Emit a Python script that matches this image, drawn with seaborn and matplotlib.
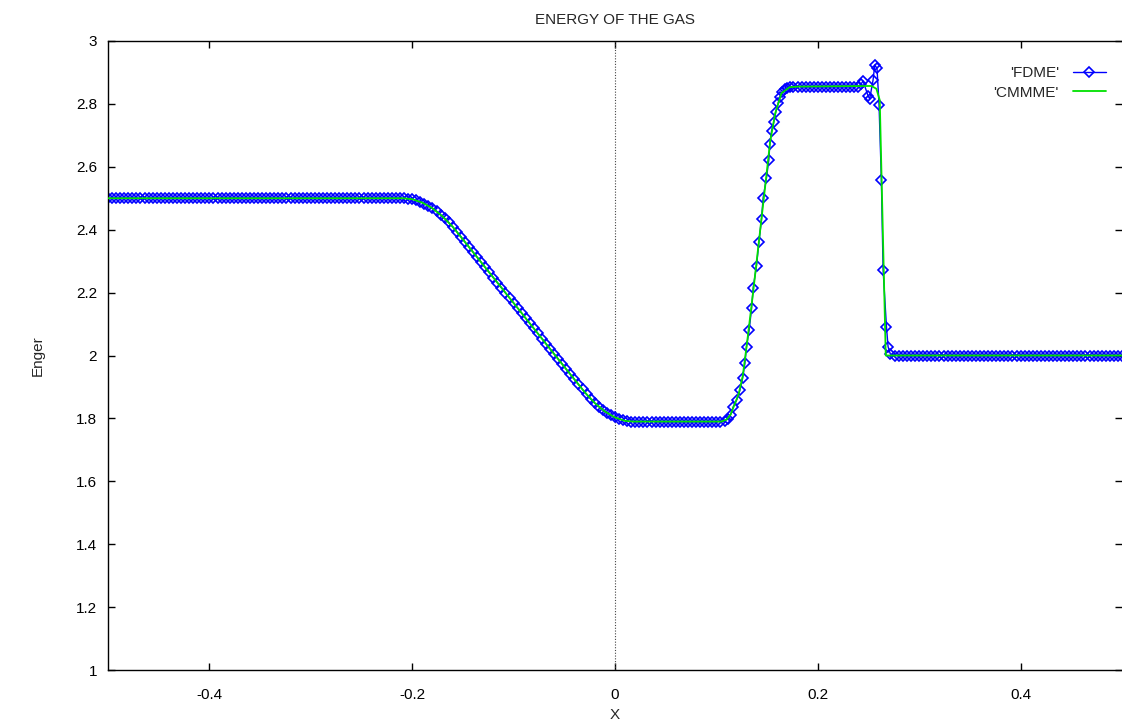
import numpy as np
import pandas as pd
import matplotlib
matplotlib.use("Agg")
import matplotlib.pyplot as plt
import seaborn as sns
from matplotlib.ticker import FuncFormatter

# ---- FDME (moving mesh points), read segment by segment ----
left_x = [-0.500, -0.496, -0.492, -0.488, -0.484, -0.480, -0.476, -0.472, -0.468, -0.464,
          -0.460, -0.456, -0.452, -0.448, -0.444, -0.440, -0.436, -0.432, -0.428, -0.424,
          -0.420, -0.416, -0.412, -0.408, -0.404, -0.400, -0.396, -0.392, -0.388, -0.384,
          -0.380, -0.376, -0.372, -0.368, -0.364, -0.360, -0.356, -0.352, -0.348, -0.344,
          -0.340, -0.336, -0.332, -0.328, -0.324, -0.320, -0.316, -0.312, -0.308, -0.304,
          -0.300, -0.296, -0.292, -0.288, -0.284, -0.280, -0.276, -0.272, -0.268, -0.264,
          -0.260, -0.256, -0.252, -0.248, -0.244, -0.240, -0.236, -0.232, -0.228, -0.224,
          -0.220, -0.216, -0.212]
left_y = [2.5, 2.5, 2.5, 2.5, 2.5, 2.5, 2.5, 2.5, 2.5, 2.5,
          2.5, 2.5, 2.5, 2.5, 2.5, 2.5, 2.5, 2.5, 2.5, 2.5,
          2.5, 2.5, 2.5, 2.5, 2.5, 2.5, 2.5, 2.5, 2.5, 2.5,
          2.5, 2.5, 2.5, 2.5, 2.5, 2.5, 2.5, 2.5, 2.5, 2.5,
          2.5, 2.5, 2.5, 2.5, 2.5, 2.5, 2.5, 2.5, 2.5, 2.5,
          2.5, 2.5, 2.5, 2.5, 2.5, 2.5, 2.5, 2.5, 2.5, 2.5,
          2.5, 2.5, 2.5, 2.5, 2.5, 2.5, 2.5, 2.5, 2.5, 2.5,
          2.5, 2.5, 2.5]

rare_x = [-0.208, -0.204, -0.200, -0.196, -0.192, -0.188, -0.184, -0.180, -0.176, -0.172,
          -0.168, -0.164, -0.160, -0.156, -0.152, -0.148, -0.144, -0.140, -0.136, -0.132,
          -0.128, -0.124, -0.120, -0.116, -0.112, -0.108, -0.104, -0.100, -0.096, -0.092,
          -0.088, -0.084, -0.080, -0.076, -0.072, -0.068, -0.064, -0.060, -0.056, -0.052,
          -0.048, -0.044, -0.040, -0.036, -0.032, -0.028, -0.024, -0.020, -0.016, -0.012,
          -0.008, -0.004, 0.000, 0.004, 0.008, 0.012, 0.016]
rare_y = [2.500, 2.499, 2.497, 2.493, 2.489, 2.483, 2.476, 2.468, 2.459, 2.448,
          2.436, 2.423, 2.409, 2.394, 2.378, 2.361, 2.345, 2.329, 2.313, 2.297,
          2.280, 2.264, 2.248, 2.232, 2.216, 2.199, 2.183, 2.167, 2.151, 2.135,
          2.118, 2.102, 2.086, 2.070, 2.054, 2.037, 2.021, 2.005, 1.989, 1.973,
          1.956, 1.940, 1.924, 1.908, 1.892, 1.876, 1.862, 1.849, 1.837, 1.827,
          1.817, 1.810, 1.803, 1.798, 1.794, 1.791, 1.790]

mid_x = [0.020, 0.024, 0.028, 0.032, 0.036, 0.040, 0.044, 0.048, 0.052, 0.056,
         0.060, 0.064, 0.068, 0.072, 0.076, 0.080, 0.084, 0.088, 0.092, 0.096,
         0.100, 0.104]
mid_y = [1.79, 1.79, 1.79, 1.79, 1.79, 1.79, 1.79, 1.79, 1.79, 1.79,
         1.79, 1.79, 1.79, 1.79, 1.79, 1.79, 1.79, 1.79, 1.79, 1.79,
         1.79, 1.79]

rise_x = [0.108, 0.111, 0.114, 0.1166, 0.1199, 0.1232, 0.1258, 0.1281, 0.1297, 0.1323,
          0.1347, 0.1363, 0.1396, 0.1419, 0.1445, 0.1461, 0.1494, 0.1517, 0.1527, 0.1544,
          0.1567, 0.1586, 0.1609, 0.1626, 0.1650, 0.1675, 0.1700, 0.1724]
rise_y = [1.792, 1.798, 1.812, 1.837, 1.858, 1.890, 1.927, 1.975, 2.028, 2.081,
          2.150, 2.216, 2.286, 2.360, 2.434, 2.502, 2.565, 2.622, 2.672, 2.714,
          2.743, 2.775, 2.802, 2.823, 2.838, 2.846, 2.852, 2.855]

top_x = [0.176, 0.180, 0.184, 0.188, 0.192, 0.196, 0.200, 0.204, 0.208, 0.212,
         0.216, 0.220, 0.224, 0.228, 0.232, 0.236, 0.240]
top_y = [2.855, 2.855, 2.855, 2.855, 2.855, 2.855, 2.855, 2.855, 2.855, 2.855,
         2.855, 2.855, 2.855, 2.855, 2.855, 2.855, 2.855]

shock_x = [0.2425, 0.2446, 0.2495, 0.2512, 0.2545, 0.2562, 0.2584, 0.2604, 0.2627, 0.2644,
           0.2677, 0.2693, 0.2715]
shock_y = [2.862, 2.873, 2.826, 2.816, 2.876, 2.924, 2.913, 2.797, 2.558, 2.272,
           2.092, 2.028, 2.005]

right_x = [0.276, 0.280, 0.284, 0.288, 0.292, 0.296, 0.300, 0.304, 0.308, 0.312,
           0.316, 0.320, 0.324, 0.328, 0.332, 0.336, 0.340, 0.344, 0.348, 0.352,
           0.356, 0.360, 0.364, 0.368, 0.372, 0.376, 0.380, 0.384, 0.388, 0.392,
           0.396, 0.400, 0.404, 0.408, 0.412, 0.416, 0.420, 0.424, 0.428, 0.432,
           0.436, 0.440, 0.444, 0.448, 0.452, 0.456, 0.460, 0.464, 0.468, 0.472,
           0.476, 0.480, 0.484, 0.488, 0.492, 0.496, 0.500]
right_y = [2.0, 2.0, 2.0, 2.0, 2.0, 2.0, 2.0, 2.0, 2.0, 2.0,
           2.0, 2.0, 2.0, 2.0, 2.0, 2.0, 2.0, 2.0, 2.0, 2.0,
           2.0, 2.0, 2.0, 2.0, 2.0, 2.0, 2.0, 2.0, 2.0, 2.0,
           2.0, 2.0, 2.0, 2.0, 2.0, 2.0, 2.0, 2.0, 2.0, 2.0,
           2.0, 2.0, 2.0, 2.0, 2.0, 2.0, 2.0, 2.0, 2.0, 2.0,
           2.0, 2.0, 2.0, 2.0, 2.0, 2.0, 2.0]

# ---- CMMME (reference line, no markers) ----
cmmme_x = [-0.500, -0.209, -0.200, -0.190, -0.180, -0.170, -0.160, -0.150, -0.100, -0.050,
           -0.030, -0.020, -0.010, 0.000, 0.010, 0.018, 0.105, 0.110, 0.114, 0.118,
           0.122, 0.126, 0.130, 0.136, 0.142, 0.148, 0.153, 0.158, 0.1642, 0.172,
           0.180, 0.2529, 0.2578, 0.2611, 0.2670, 0.500]
cmmme_y = [2.5, 2.5, 2.497, 2.486, 2.468, 2.442, 2.409, 2.369, 2.167, 1.964,
           1.884, 1.849, 1.822, 1.803, 1.792, 1.790, 1.790, 1.796, 1.812, 1.845,
           1.878, 1.935, 2.035, 2.195, 2.365, 2.535, 2.680, 2.770, 2.834, 2.853,
           2.855, 2.857, 2.848, 2.812, 2.0, 2.0]

x_ticks = [-0.4, -0.2, 0, 0.2, 0.4]
y_ticks = [1, 1.2, 1.4, 1.6, 1.8, 2, 2.2, 2.4, 2.6, 2.8, 3]

fdme = pd.DataFrame({
    "x": np.concatenate([left_x, rare_x, mid_x, rise_x, top_x, shock_x, right_x]),
    "y": np.concatenate([left_y, rare_y, mid_y, rise_y, top_y, shock_y, right_y]),
})
cmmme = pd.DataFrame({"x": cmmme_x, "y": cmmme_y})

sns.set_style("ticks")
plt.rcParams['font.family'] = ['Liberation Sans', 'DejaVu Sans']
plt.rcParams['axes.unicode_minus'] = False

fig = plt.figure(figsize=(11.22, 7.27), dpi=100)
ax = fig.add_axes([108 / 1122, 57 / 727, 1014 / 1122, 629 / 727])

# dotted zero axis
ax.axvline(0, color='#444444', lw=0.8, ls=(0, (1, 1.5)), zorder=1)

sns.lineplot(data=fdme, x="x", y="y", sort=False, estimator=None, ax=ax,
             color='#0000ff', linewidth=1.0, marker='D', markersize=5.0,
             markerfacecolor='none', markeredgecolor='#0000ff', markeredgewidth=1.2,
             label="'FDME'", zorder=2)
sns.lineplot(data=cmmme, x="x", y="y", sort=False, estimator=None, ax=ax,
             color='#00e000', linewidth=1.3, label="'CMMME'", zorder=3)

ax.set_xlim(-0.5, 0.5)
ax.set_ylim(1, 3)
ax.set_xticks(x_ticks)
ax.set_yticks(y_ticks)
ax.xaxis.set_major_formatter(FuncFormatter(lambda v, p: '%g' % round(v, 3)))
ax.yaxis.set_major_formatter(FuncFormatter(lambda v, p: '%g' % round(v, 3)))
ax.tick_params(direction='in', length=5, width=1, top=True, right=True,
               labelsize=11, colors='black')
ax.tick_params(axis='x', pad=13)
ax.tick_params(axis='y', pad=8)
for s in ['left', 'bottom', 'top']:
    ax.spines[s].set_color('black')
    ax.spines[s].set_linewidth(1)
ax.spines['right'].set_visible(False)

ax.set_title('ENERGY OF THE GAS', fontsize=11, pad=12)
ax.set_xlabel('X', fontsize=11, labelpad=4)
ax.set_ylabel('Enger', fontsize=11, labelpad=22)

ax.legend(loc='upper right', bbox_to_anchor=(0.992, 0.972), frameon=False,
          markerfirst=False, fontsize=11, handlelength=2.2, handletextpad=0.9,
          borderpad=0, labelspacing=0.35, numpoints=1)

fig.savefig('out.png', dpi=100)
